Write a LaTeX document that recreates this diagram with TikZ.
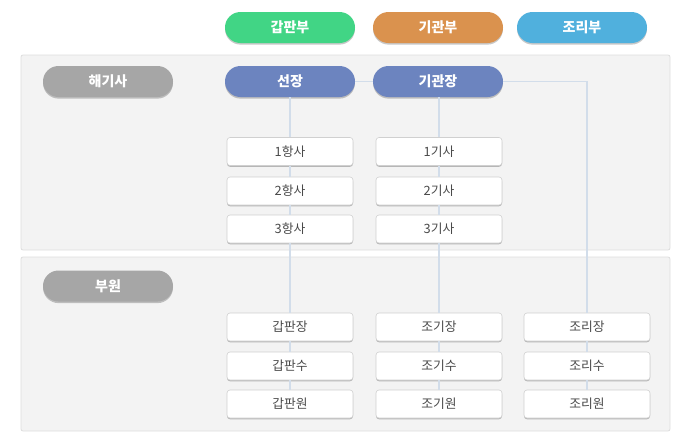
\documentclass[tikz,border=0pt]{standalone}
\usepackage{fontspec}
\setmainfont{Noto Sans CJK KR}
\usepackage{tikz}
\usetikzlibrary{shadows}
\definecolor{deckgreen}{HTML}{41D585}
\definecolor{engorange}{HTML}{DA924E}
\definecolor{cookblue}{HTML}{50B0DD}
\definecolor{headslate}{HTML}{6C84BF}
\definecolor{tagray}{HTML}{A6A6A6}
\definecolor{panelbg}{HTML}{F3F3F3}
\definecolor{panelline}{HTML}{DDDDDD}
\definecolor{boxline}{HTML}{D0D0D0}
\definecolor{linkline}{HTML}{D2DDEA}
\definecolor{boxtext}{HTML}{4A4A4A}

\tikzset{
  pill/.style={fill=#1, text=white, font=\fontsize{14}{16}\selectfont\bfseries,
    minimum width=130pt, minimum height=31pt, rounded corners=15.5pt, inner sep=0pt,
    drop shadow={shadow xshift=0pt, shadow yshift=-1.6pt, fill=black, opacity=0.22}},
  rankbox/.style={fill=white, draw=boxline, line width=0.6pt, text=boxtext,
    font=\fontsize{12.8}{15}\selectfont, minimum width=126pt, minimum height=28pt,
    rounded corners=3pt, inner sep=0pt,
    drop shadow={shadow xshift=0pt, shadow yshift=-1.3pt, fill=black, opacity=0.25}},
  link/.style={draw=linkline, line width=1.6pt},
}

\begin{document}
\begin{tikzpicture}[x=1pt, y=-1pt]
  \useasboundingbox (0,0) rectangle (689,437);
  % panels
  \filldraw[fill=panelbg, draw=panelline, line width=0.8pt, rounded corners=2pt] (21,55) rectangle (670,250);
  \filldraw[fill=panelbg, draw=panelline, line width=0.8pt, rounded corners=2pt] (21,257) rectangle (670,431);
  % departments
  \node[pill=deckgreen] (deck) at (290,27.5) {갑판부};
  \node[pill=engorange] (eng) at (438,27.5) {기관부};
  \node[pill=cookblue] (cook) at (582,27.5) {조리부};
  % group tags
  \node[pill=tagray] (officer) at (108,81.5) {해기사};
  \node[pill=tagray] (crew) at (108,286) {부원};
  % heads
  \node[pill=headslate] (captain) at (290,81.5) {선장};
  \node[pill=headslate] (chiefeng) at (438,81.5) {기관장};
  % officers
  \node[rankbox] (mate1) at (290,151.5) {1항사};
  \node[rankbox] (mate2) at (290,191) {2항사};
  \node[rankbox] (mate3) at (290,229) {3항사};
  \node[rankbox] (eng1) at (439,151.5) {1기사};
  \node[rankbox] (eng2) at (439,191) {2기사};
  \node[rankbox] (eng3) at (439,229) {3기사};
  % ratings
  \node[rankbox] (bosun) at (290,327) {갑판장};
  \node[rankbox] (ab) at (290,366) {갑판수};
  \node[rankbox] (os) at (290,404) {갑판원};
  \node[rankbox] (oiler1) at (439,327) {조기장};
  \node[rankbox] (oiler2) at (439,366) {조기수};
  \node[rankbox] (oiler3) at (439,404) {조기원};
  \node[rankbox] (cook1) at (587,327) {조리장};
  \node[rankbox] (cook2) at (587,366) {조리수};
  \node[rankbox] (cook3) at (587,404) {조리원};
  % links
  \draw[link] (captain) -- (chiefeng);
  \draw[link] (captain) -- (mate1);
  \draw[link] (mate1) -- (mate2);
  \draw[link] (mate2) -- (mate3);
  \draw[link] (mate3) -- (bosun);
  \draw[link] (bosun) -- (ab);
  \draw[link] (ab) -- (os);
  \draw[link] (chiefeng.south -| eng1.north) -- (eng1);
  \draw[link] (eng1) -- (eng2);
  \draw[link] (eng2) -- (eng3);
  \draw[link] (eng3) -- (oiler1);
  \draw[link] (oiler1) -- (oiler2);
  \draw[link] (oiler2) -- (oiler3);
  \draw[link] (chiefeng.east) -| (cook1.north);
  \draw[link] (cook1) -- (cook2);
  \draw[link] (cook2) -- (cook3);
\end{tikzpicture}
\end{document}
